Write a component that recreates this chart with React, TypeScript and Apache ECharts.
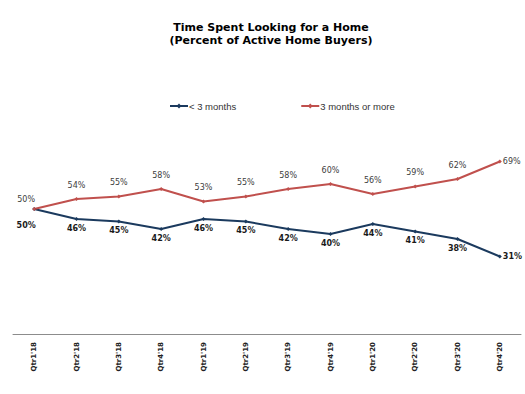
import React, { useEffect, useRef } from "react";
import * as echarts from "echarts";

const categories = ["Qtr1'18", "Qtr2'18", "Qtr3'18", "Qtr4'18", "Qtr1'19", "Qtr2'19", "Qtr3'19", "Qtr4'19", "Qtr1'20", "Qtr2'20", "Qtr3'20", "Qtr4'20"];
const lessThan3 = [50, 46, 45, 42, 46, 45, 42, 40, 44, 41, 38, 31];
const threeOrMore = [50, 54, 55, 58, 53, 55, 58, 60, 56, 59, 62, 69];

const BLUE = "#1B3A5E";
const RED = "#C0504D";

export default function App() {
  const ref = useRef<HTMLDivElement>(null);
  useEffect(() => {
    if (!ref.current) return;
    const chart = echarts.init(ref.current, null, { renderer: "svg" });
    const last = categories.length - 1;
    const blueData = lessThan3.map((v, i) => ({
      value: v,
      label:
        i === last
          ? { position: "right", distance: 1 }
          : i === 0
          ? { position: "bottom", offset: [-8, 7] }
          : undefined,
    }));
    const redData = threeOrMore.map((v, i) => ({
      value: v,
      label:
        i === last
          ? { position: "right", distance: 1 }
          : i === 0
          ? { position: "top", offset: [-8, 4] }
          : undefined,
    }));
    chart.setOption({
      animation: false,
      backgroundColor: "#ffffff",
      title: {
        text: "Time Spent Looking for a Home\n(Percent of Active Home Buyers)",
        left: 266,
        textAlign: "center",
        top: 16,
        textStyle: {
          fontFamily: "DejaVu Sans",
          fontWeight: "bold",
          fontSize: 11,
          lineHeight: 13,
          color: "#000000",
        },
      },
      legend: {
        top: 96,
        left: 164,
        itemGap: 64,
        itemWidth: 18,
        itemHeight: 6,
        textStyle: {
          fontFamily: "Liberation Sans",
          fontSize: 9.5,
          color: "#333333",
          padding: [0, 0, 0, -4],
        },
        data: ["< 3 months", "3 months or more"],
      },
      grid: { left: 13, right: 4, top: 84, bottom: 60, containLabel: false },
      xAxis: {
        type: "category",
        data: categories,
        boundaryGap: true,
        axisLine: { lineStyle: { color: "#8c8c8c", width: 1 } },
        axisTick: { show: false },
        axisLabel: {
          rotate: 90,
          margin: 8,
          fontFamily: "DejaVu Sans",
          fontWeight: "bold",
          fontSize: 7,
          color: "#222222",
        },
      },
      yAxis: {
        type: "value",
        min: 0,
        max: 100,
        show: false,
        splitLine: { show: false },
      },
      series: [
        {
          name: "< 3 months",
          type: "line",
          data: blueData,
          symbol: "diamond",
          symbolSize: 4,
          itemStyle: { color: BLUE },
          lineStyle: { color: BLUE, width: 2 },
          label: {
            show: true,
            position: "bottom",
            distance: 3,
            formatter: "{c}%",
            fontFamily: "DejaVu Sans",
            fontWeight: "bold",
            fontSize: 8,
            color: "#1a1a1a",
          },
        },
        {
          name: "3 months or more",
          type: "line",
          data: redData,
          symbol: "diamond",
          symbolSize: 4,
          itemStyle: { color: RED },
          lineStyle: { color: RED, width: 2 },
          label: {
            show: true,
            position: "top",
            distance: 8,
            formatter: "{c}%",
            fontFamily: "DejaVu Sans",
            fontSize: 8,
            color: "#404040",
          },
        },
      ],
    });
    return () => chart.dispose();
  }, []);
  return (
    <div
      ref={ref}
      style={{ position: "absolute", left: 0, top: 0, width: 525, height: 394 }}
    />
  );
}
